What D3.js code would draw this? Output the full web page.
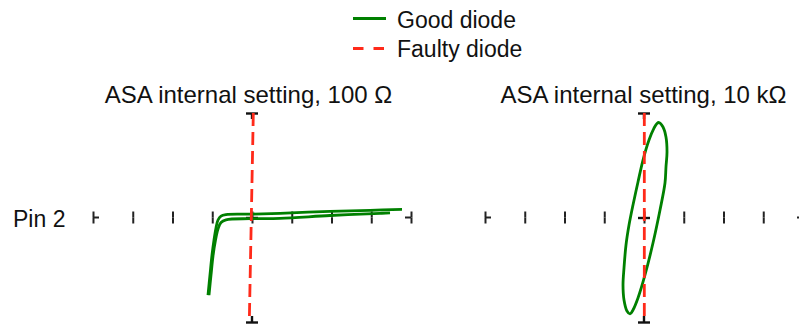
<!DOCTYPE html>
<html>
<head>
<meta charset="utf-8">
<script src="https://cdn.jsdelivr.net/npm/d3@7/dist/d3.min.js"></script>
<style>
  html, body { margin: 0; padding: 0; background: #fff; }
  svg { display: block; font-family: "Liberation Sans", Arial, sans-serif; }
</style>
</head>
<body>
<svg id="chart" width="799" height="324"></svg>
<script>
// Curve tracer display: horizontal = voltage divisions, vertical = current divisions
const xTicks = [-4, -3, -2, -1, 0, 1, 2, 3, 4];
const yTicks = [-1, 0, 1];
const panelTitles = ["ASA internal setting, 100 Ω", "ASA internal setting, 10 kΩ"];
const rowLabel = "Pin 2";
const legendLabels = ["Good diode", "Faulty diode"];

// Good diode, 100 Ω setting: outgoing and returning sweep branches
const good100Out = [
  [-1.107, -0.742], [-1.057, -0.550], [-1.006, -0.359], [-0.956, -0.215],
  [-0.906, -0.100], [-0.855, -0.024], [-0.780, 0.014], [-0.654, 0.028],
  [-0.050, 0.032], [0.704, 0.040], [1.962, 0.059], [2.969, 0.069], [3.774, 0.077]
];
const good100Back = [
  [-1.082, -0.742], [-1.031, -0.550], [-0.981, -0.368], [-0.918, -0.215],
  [-0.855, -0.110], [-0.780, -0.048], [-0.654, -0.022], [-0.050, -0.011],
  [0.704, -0.008], [1.962, 0.019], [3.220, 0.040], [3.472, 0.045]
];
// Good diode, 10 kΩ setting: closed loop
const good10k = [
  [0.377, 0.909], [0.478, 0.866], [0.553, 0.770], [0.579, 0.627], [0.553, 0.483],
  [0.528, 0.330], [0.403, 0.072], [0.226, -0.244], [0.025, -0.550], [-0.151, -0.770],
  [-0.277, -0.885], [-0.352, -0.923], [-0.428, -0.895], [-0.503, -0.789], [-0.528, -0.646],
  [-0.503, -0.483], [-0.453, -0.263], [-0.377, -0.072], [-0.277, 0.120], [-0.151, 0.340],
  [-0.025, 0.550], [0.126, 0.742], [0.252, 0.856], [0.327, 0.900]
];
// Faulty diode (open): vertical trace
const faulty100 = [[0.033, 1], [-0.068, -1]];
const faulty10k = [[0.008, 1], [0.008, -1]];

const GREEN = "#008000";
const RED = "#ff2a1a";
const INK = "#222";

const svg = d3.select("#chart");

const panels = [
  { cx: 252, title: panelTitles[0], titleDx: -3.5, good: [good100Out, good100Back], closed: false, faulty: faulty100 },
  { cx: 644, title: panelTitles[1], titleDx: -0.5, good: [good10k], closed: true, faulty: faulty10k }
];

const halfW = 159, yTop = 113, yBot = 322;

panels.forEach(p => {
  const x = d3.scaleLinear().domain([-4, 4]).range([p.cx - halfW, p.cx + halfW]);
  const y = d3.scaleLinear().domain([-1, 1]).range([yBot, yTop]);
  const g = svg.append("g");
  const y0 = y(0);

  // horizontal axis: ticks centred on the zero line
  const ax = g.append("g").attr("transform", `translate(0,${y0})`);
  [d3.axisTop(x), d3.axisBottom(x)].forEach(a => {
    const s = ax.append("g").call(a.tickValues(xTicks).tickSize(6).tickFormat(""));
    s.select(".domain").remove();
    s.selectAll("line").attr("stroke", INK).attr("stroke-width", 2);
  });
  // end stubs of the horizontal axis
  ax.append("line").attr("x1", x(-4)).attr("x2", x(-4) + 6).attr("y1", 0).attr("y2", 0)
    .attr("stroke", INK).attr("stroke-width", 2);
  ax.append("line").attr("x1", x(4)).attr("x2", x(4) - 6).attr("y1", 0).attr("y2", 0)
    .attr("stroke", INK).attr("stroke-width", 2);

  // vertical axis: centre tick and end caps
  const ay = g.append("g").attr("transform", `translate(${x(0)},0)`);
  [d3.axisLeft(y), d3.axisRight(y)].forEach(a => {
    const s = ay.append("g").call(a.tickValues(yTicks).tickSize(6).tickFormat(""));
    s.select(".domain").remove();
    s.selectAll("line").attr("stroke", "#111").attr("stroke-width", 2.4);
  });
  ay.append("line").attr("x1", 0).attr("x2", 0).attr("y1", y(1)).attr("y2", y(1) + 6)
    .attr("stroke", "#111").attr("stroke-width", 2.4);
  ay.append("line").attr("x1", 0).attr("x2", 0).attr("y1", y(-1)).attr("y2", y(-1) - 6)
    .attr("stroke", "#111").attr("stroke-width", 2.4);

  // good diode trace
  const line = d3.line().x(d => x(d[0])).y(d => y(d[1]))
    .curve(p.closed ? d3.curveCatmullRomClosed : d3.curveCatmullRom);
  p.good.forEach(tr => {
    g.append("path").attr("d", line(tr)).attr("fill", "none")
      .attr("stroke", GREEN).attr("stroke-width", 2.8).attr("stroke-linejoin", "round");
  });

  // faulty diode trace
  g.append("path").attr("d", d3.line().x(d => x(d[0])).y(d => y(d[1]))(p.faulty))
    .attr("fill", "none").attr("stroke", RED).attr("stroke-width", 2.8)
    .attr("stroke-dasharray", "13,6");

  // panel title
  svg.append("text").attr("x", p.cx + p.titleDx).attr("y", 103)
    .attr("text-anchor", "middle").attr("font-size", 24).attr("fill", "#111")
    .text(p.title);
});

// row label
svg.append("text").attr("x", 13).attr("y", 227).attr("font-size", 23).attr("fill", "#111").text(rowLabel);

// legend
const legend = svg.append("g");
const legendItems = [
  { label: legendLabels[0], color: GREEN, dash: null, ly: 18.5, ty: 28 },
  { label: legendLabels[1], color: RED, dash: "10.5,10", ly: 48.5, ty: 57 }
];
legendItems.forEach(it => {
  legend.append("line").attr("x1", 353).attr("x2", 386).attr("y1", it.ly).attr("y2", it.ly)
    .attr("stroke", it.color).attr("stroke-width", 2.8)
    .attr("stroke-dasharray", it.dash);
  legend.append("text").attr("x", 397).attr("y", it.ty).attr("font-size", 23).attr("fill", "#111").text(it.label);
});
</script>
</body>
</html>
